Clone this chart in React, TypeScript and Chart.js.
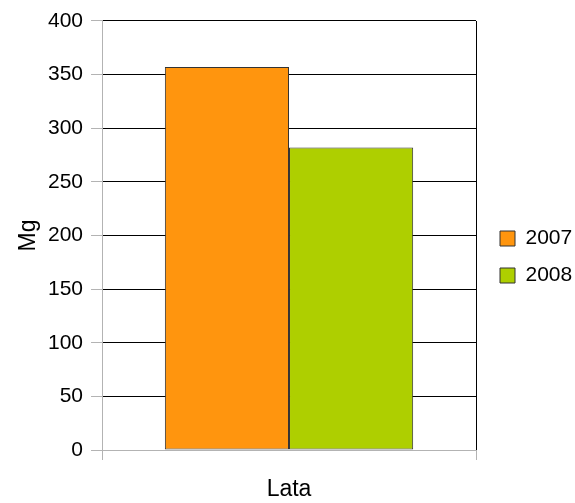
import React, { useEffect, useRef } from "react";
import { Chart, registerables } from "chart.js";

Chart.register(...registerables);

const categories = [""];
const seriesNames = ["2007", "2008"];
const values2007 = [357];
const values2008 = [282];
const seriesColors = ["#ff950e", "#aecf00"];
const yMin = 0;
const yMax = 400;
const yStep = 50;
const xTitle = "Lata";
const yTitle = "Mg";

const FONT = "'Liberation Sans', Arial, sans-serif";

export default function App() {
  const canvasRef = useRef<HTMLCanvasElement | null>(null);

  useEffect(() => {
    const canvas = canvasRef.current;
    if (!canvas) return;
    const chart = new Chart(canvas, {
      type: "bar",
      data: {
        labels: categories,
        datasets: [
          {
            label: seriesNames[0],
            data: values2007,
            backgroundColor: seriesColors[0],
            borderColor: "#333333",
            borderWidth: 1,
            borderSkipped: false,
            yAxisID: "y",
          },
          {
            label: seriesNames[1],
            data: values2008,
            backgroundColor: seriesColors[1],
            borderColor: "#333333",
            borderWidth: 1,
            borderSkipped: false,
            yAxisID: "y",
          },
        ],
      },
      options: {
        responsive: false,
        animation: false,
        events: [],
        datasets: {
          bar: { categoryPercentage: 0.664, barPercentage: 1 },
        },
        layout: { padding: { left: 4.6, top: 11, right: 2, bottom: 0 } },
        plugins: {
          legend: {
            position: "right",
            maxWidth: 89,
            labels: {
              boxWidth: 15,
              boxHeight: 15,
              padding: 16,
              color: "#000",
              font: { family: FONT, size: 21 },
            },
          },
          tooltip: { enabled: false },
        },
        scales: {
          x: {
            grid: {
              offset: true,
              color: "#000",
              tickColor: "#b3b3b3",
              tickLength: 10,
              drawOnChartArea: true,
              lineWidth: 1,
            },
            border: { color: "#b3b3b3" },
            ticks: { display: false },
            title: {
              display: true,
              text: xTitle,
              color: "#000",
              font: { family: FONT, size: 23 },
              padding: { top: 15.4, bottom: 0 },
            },
          },
          y: {
            min: yMin,
            max: yMax,
            ticks: {
              stepSize: yStep,
              color: "#000",
              padding: 8,
              font: { family: FONT, size: 21, lineHeight: 1.238 },
            },
            grid: { color: "#000", tickColor: "#b3b3b3", tickLength: 11 },
            border: { color: "#b3b3b3" },
            title: {
              display: true,
              text: yTitle,
              color: "#000",
              font: { family: FONT, size: 23, lineHeight: 1 },
              padding: { top: 12.4, bottom: 0 },
            },
          },
          pad: {
            type: "linear",
            position: "right",
            display: false,
            afterFit: (s: any) => {
              s.width = 8;
            },
          },
        },
      } as any,
    });
    return () => chart.destroy();
  }, []);

  return (
    <div style={{ position: "absolute", left: 0, top: 0, width: 575, height: 503, background: "#fff" }}>
      <canvas ref={canvasRef} width={575} height={503} style={{ display: "block" }} />
    </div>
  );
}
